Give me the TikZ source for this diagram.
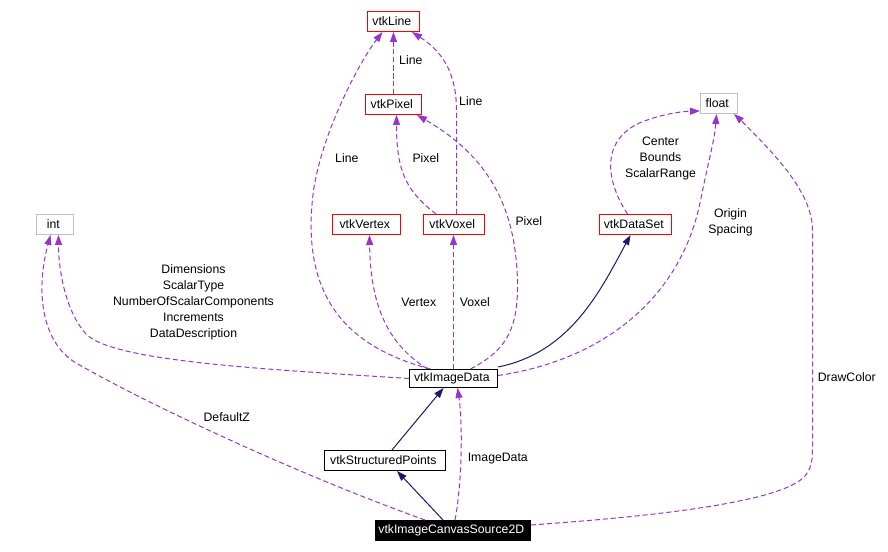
\documentclass[tikz,border=0pt]{standalone}
\usepackage{fontspec}
\setmainfont{Liberation Sans}
\usetikzlibrary{arrows.meta}
\definecolor{usecol}{HTML}{9A32CD}
\definecolor{inhcol}{HTML}{191970}
\definecolor{boxgrey}{HTML}{BFBFBF}

\begin{document}
\begin{tikzpicture}[x = 1bp, y = -1bp,
    every node/.style = { font = \fontsize{12.3}{16}\selectfont, align = center, inner sep = 0pt },
    cls/.style = { draw = red, line width = 1bp, minimum height = 20bp, fill = white },
    ext/.style = { cls, draw = boxgrey },
    main/.style = { cls, draw = black },
    usedby/.style = { draw = usecol, line width = 1bp, dash pattern = on 5bp off 3bp,
      -{Triangle[length = 10bp, width = 7bp, fill = usecol]} },
    inh/.style = { draw = inhcol, line width = 1bp,
      -{Triangle[length = 10bp, width = 7bp, fill = inhcol]} }]
  \fill [white] (-0.5,-0.5) rectangle (887.5,551.5);

  \node [cls, minimum width = 56bp] (vpixel) at (393,104) { vtkPixel };
  \node [cls, minimum width = 52bp] (vline) at (393,21) { vtkLine };
  \node [ext, minimum width = 37bp] (vfloat) at (718.5,103) { float };
  \node [ext, minimum width = 37bp] (vint) at (54.5,224) { int };
  \node [cls, minimum width = 68bp] (vvertex) at (366,224) { vtkVertex };
  \node [cls, minimum width = 61bp] (vvoxel) at (453.5,224) { vtkVoxel };
  \node [cls, minimum width = 72bp] (vdataset) at (635,224) { vtkDataSet };
  \node [main, minimum width = 88bp, minimum height = 18bp] (vimgdata) at (453,378) { vtkImageData };
  \node [main, minimum width = 121bp] (vstructured) at (384.5,460) { vtkStructuredPoints };
  \node [main, minimum width = 155bp, fill = black, text = white] (vcanvas) at (452.5,530) { vtkImageCanvasSource2D };

  \draw [usedby] (vpixel.north) .. controls (393,80) and (393,50) .. (vline.south);
  \draw [usedby] ([xshift = 2.5bp]vvoxel.north) -- (456,110)
    .. controls (456,70) and (440,50) .. ([xshift = -8bp]vline.south east);
  \draw [usedby] ([xshift = -23bp]vimgdata.north) .. controls (340,345) and (300,290) .. (313,190)
    .. controls (322,130) and (360,60) .. ([xshift = -11bp]vline.south);
  \draw [usedby] ([xshift = -18bp]vvoxel.north) .. controls (405,190) and (396,170) .. ([xshift = 3bp]vpixel.south);
  \draw [usedby] ([xshift = 17bp]vimgdata.north) .. controls (505,350) and (518,330) .. (517,280)
    .. controls (515,215) and (495,160) .. ([xshift = -5bp]vpixel.south east);
  \draw [usedby] ([xshift = -26bp]vimgdata.north) .. controls (390,345) and (370,310) .. ([xshift = 3bp]vvertex.south);
  \draw [usedby] (vimgdata.north) -- (vvoxel.south -| vimgdata.north);
  \draw [inh] ([yshift = 2bp]vimgdata.north east) .. controls (570,352) and (600,290) .. ([xshift = -5bp]vdataset.south);
  \draw [usedby] ([xshift = -8bp]vdataset.north) .. controls (605,180) and (600,140) .. (640,122)
    .. controls (660,114) and (680,111) .. ([yshift = 3bp]vfloat.south west);
  \draw [usedby] ([yshift = 3bp]vimgdata.east) .. controls (600,360) and (680,300) .. (700,200)
    .. controls (708,160) and (714,140) .. ([xshift = -2.5bp]vfloat.south);
  \draw [usedby] (vimgdata.west) .. controls (250,368) and (110,360) .. (85,333)
    .. controls (65,310) and (58,270) .. ([xshift = 3.5bp]vint.south);
  \draw [usedby] ([xshift = -28bp]vcanvas.north) .. controls (300,475) and (150,405) .. (80,365)
    .. controls (40,345) and (35,290) .. ([xshift = -4.5bp]vint.south);
  \draw [usedby] ([yshift = -5bp]vcanvas.north east) .. controls (620,518) and (780,505) .. (805,475)
    .. controls (812,465) and (812,460) .. (812,440) -- (812,230)
    .. controls (812,190) and (770,150) .. ([xshift = -4bp]vfloat.south east);
  \draw [inh] ([xshift = 7bp]vstructured.north) -- ([xshift = -10bp]vimgdata.south);
  \draw [inh] ([xshift = -10bp]vcanvas.north) -- ([xshift = 12bp]vstructured.south);
  \draw [usedby] ([xshift = 2bp]vcanvas.north) .. controls (462,480) and (462,420) .. ([xshift = 4bp]vimgdata.south);

  \node (lline1) at (412,60) { Line };
  \node (lline2) at (472,101) { Line };
  \node (lline3) at (348,158) { Line };
  \node (lpixel1) at (427,158) { Pixel };
  \node (lpixel2) at (530,221) { Pixel };
  \node (lvertex) at (420,302) { Vertex };
  \node (lvoxel) at (476,302) { Voxel };
  \node (lbounds) at (660,158) { Center \\ Bounds \\ ScalarRange };
  \node (lorigin) at (730,222) { Origin \\ Spacing };
  \node (ldims) at (193,302) { Dimensions \\ ScalarType \\ NumberOfScalarComponents \\ Increments \\ DataDescription };
  \node (ldefz) at (228,417) { DefaultZ };
  \node (limg) at (499,458) { ImageData };
  \node (ldraw) at (848,377) { DrawColor };
\end{tikzpicture}
\end{document}
